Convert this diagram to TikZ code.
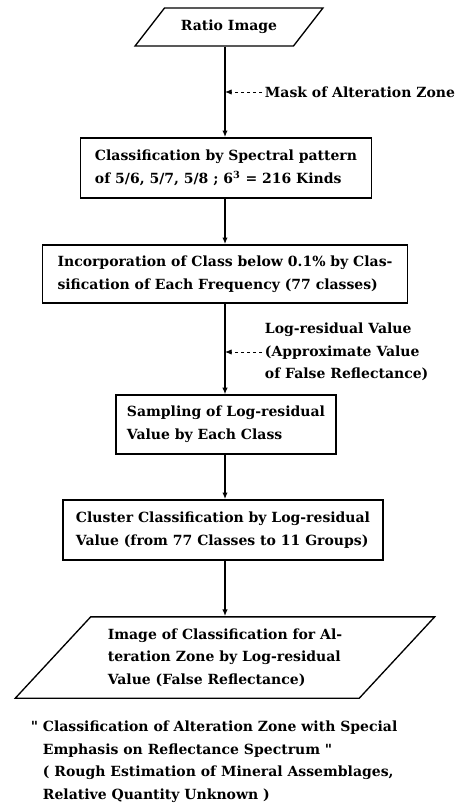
\documentclass[tikz,border=0pt]{standalone}
\usepackage{fontspec}
\setmainfont{DejaVu Serif}
\usetikzlibrary{shapes.geometric, arrows.meta, positioning, calc}

\tikzset{
  flowtext/.style={font=\bfseries\fontsize{10.5}{17}\selectfont},
  procbox/.style={flowtext, draw, line width=1.2pt, align=left, inner sep=4pt},
  iobox/.style={procbox, trapezium, trapezium left angle=45, trapezium right angle=135,
    trapezium stretches=true, line width=1pt},
  flow/.style={line width=1.5pt, -{Latex[length=5pt,width=4pt]}},
  inject/.style={line width=0.6pt, dash pattern=on 2pt off 2.5pt, -{Latex[length=5pt,width=4pt]}},
  note/.style={flowtext, align=left, inner sep=2pt}
}

\begin{document}
\begin{tikzpicture}[x=0.75pt,y=-0.75pt]
  \useasboundingbox (0,0) rectangle (463,806);

  \node[iobox, minimum width=141pt, minimum height=28.5pt] (ratio) at (229,27) {Ratio Image};
  \node[procbox, minimum width=218pt, minimum height=45pt] (spectral) at (226,168)
    {Classification by Spectral pattern\\of 5/6, 5/7, 5/8 ; 6\textsuperscript{3} = 216 Kinds};
  \node[procbox, minimum width=274pt, minimum height=43.5pt] (merge) at (225,274)
    {Incorporation of Class below 0.1\% by Clas-\\sification of Each Frequency (77 classes)};
  \node[procbox, minimum width=165pt, minimum height=44pt] (sampling) at (226,424.5)
    {Sampling of Log-residual\\Value by Each Class};
  \node[procbox, minimum width=240pt, minimum height=45pt] (cluster) at (223,530)
    {Cluster Classification by Log-residual\\Value (from 77 Classes to 11 Groups)};
  \node[iobox, minimum width=315pt, minimum height=61pt] (result) at (225,657.5)
    {Image of Classification for Al-\\teration Zone by Log-residual\\Value (False Reflectance)};

  % side inputs
  \node[note, anchor=west] (mask) at (262,92) {Mask of Alteration Zone};
  \node[note, anchor=west] (logres) at (262,352)
    {Log-residual Value\\(Approximate Value\\of False Reflectance)};

  % main line, kept straight at x = 225
  \coordinate (axis) at (225,0);
  \draw[flow] (ratio.south -| axis) -- (spectral.north -| axis);
  \draw[flow] (spectral.south -| axis) -- (merge.north -| axis);
  \draw[flow] (merge.south -| axis) -- (sampling.north -| axis);
  \draw[flow] (sampling.south -| axis) -- (cluster.north -| axis);
  \draw[flow] (cluster.south -| axis) -- (result.north -| axis);
  \draw[inject] (mask.west) -- (mask.west -| axis);
  \draw[inject] (logres.west) -- (logres.west -| axis);

  \node[note, anchor=north west] (summary) at (40,718)
    {\llap{\textquotedbl\ }Classification of Alteration Zone with Special\\
     Emphasis on Reflectance Spectrum \textquotedbl\\
     ( Rough Estimation of Mineral Assemblages,\\
     Relative Quantity Unknown )};
\end{tikzpicture}
\end{document}
